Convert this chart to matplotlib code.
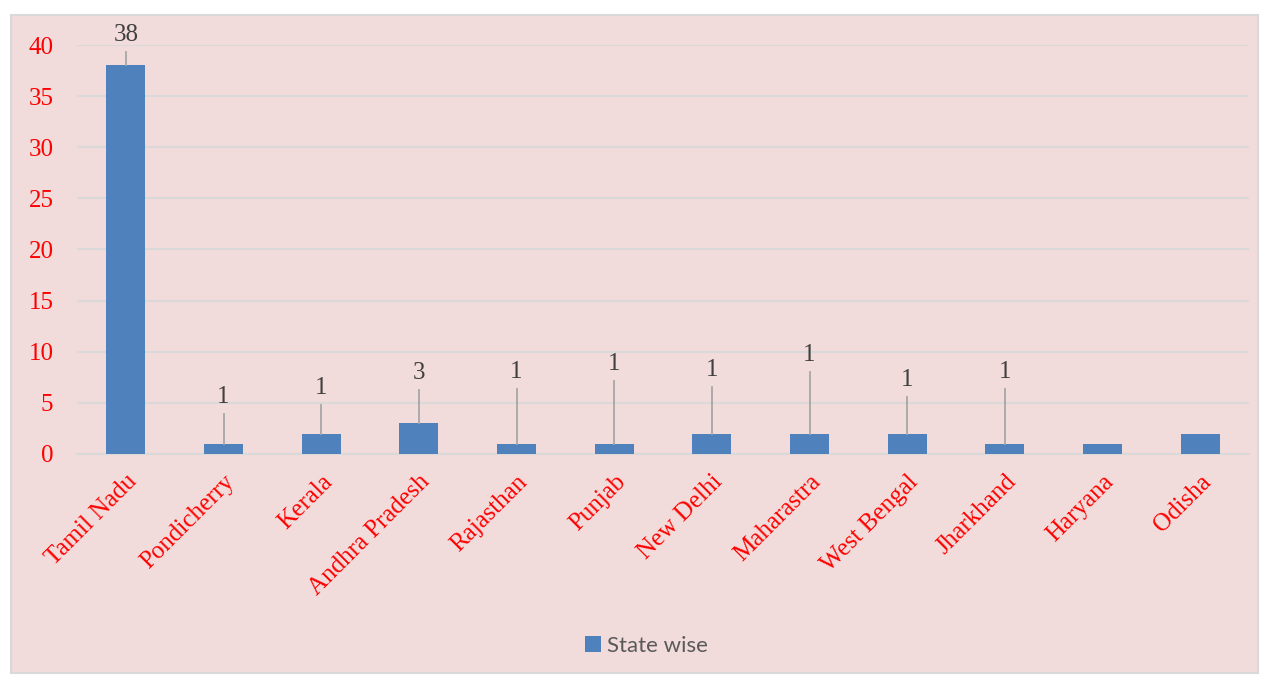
import matplotlib.pyplot as plt
from matplotlib.patches import Rectangle

# Datos
estados = ["Tamil Nadu", "Pondicherry", "Kerala", "Andhra Pradesh", "Rajasthan",
           "Punjab", "New Delhi", "Maharastra", "West Bengal", "Jharkhand",
           "Haryana", "Odisha"]
valores = [38, 1, 2, 3, 1, 1, 2, 2, 2, 1, 1, 2]
# Etiquetas de datos tal como aparecen (con lineas guia)
etiquetas = ["38", "1", "1", "3", "1", "1", "1", "1", "1", "1", "", ""]
alturas_etiqueta = [41.0, 5.6, 6.45, 7.9, 8.0, 8.8, 8.2, 9.7, 7.2, 8.0, None, None]
yticks = [0, 5, 10, 15, 20, 25, 30, 35, 40]

rojo = "#FF0000"
azul = "#4F81BD"
gris = "#D9D9D9"
serif = ["Liberation Serif", "DejaVu Serif"]

fig = plt.figure(figsize=(12.68, 6.75), dpi=100)
fig.patch.set_facecolor("white")

# Fondo del area del grafico
fig.patches.append(Rectangle((11 / 1268, 2 / 675), 1247 / 1268, 658 / 675,
                             transform=fig.transFigure, facecolor="#F2DCDB",
                             edgecolor=gris, linewidth=1.5, zorder=-5))

ax = fig.add_axes([77 / 1268, (675 - 454) / 675, 1172 / 1268, 409 / 675])
ax.set_facecolor("none")
ax.set_zorder(2)

x = list(range(len(estados)))
ax.bar(x, valores, width=0.4, color=azul, zorder=3, label="State wise")

ax.set_xlim(-0.5, len(estados) - 0.5)
ax.set_ylim(0, 40)
ax.set_yticks(yticks)
ax.yaxis.grid(True, color=gris, linewidth=1.5, zorder=0)
ax.set_axisbelow(True)
for s in ["top", "right", "left"]:
    ax.spines[s].set_visible(False)
ax.spines["bottom"].set_color(gris)
ax.spines["bottom"].set_linewidth(1.5)
ax.tick_params(length=0)
ax.tick_params(axis="y", pad=17)

for t in ax.get_yticklabels():
    t.set_color(rojo)
    t.set_fontsize(18)
    t.set_family(serif)

ax.set_xticks(x)
ax.set_xticklabels(estados, rotation=45, ha="right", va="top",
                   rotation_mode="anchor", color=rojo, fontsize=18, family=serif)
ax.tick_params(axis="x", pad=12)

# Etiquetas de datos con linea guia
for i, (v, txt, h) in enumerate(zip(valores, etiquetas, alturas_etiqueta)):
    if h is None:
        continue
    ax.plot([i, i], [v, h - 1.65], color="#A6A6A6", linewidth=1.3, zorder=4,
            clip_on=False)
    ax.text(i, h, txt, ha="center", va="center", fontsize=18, color="#404040",
            family=serif, zorder=5, clip_on=False)

fig.legend(loc="center", bbox_to_anchor=(0.51, 0.043), frameon=False,
           handlelength=0.7, handleheight=0.7, handletextpad=0.3,
           prop={"family": ["Lato", "DejaVu Sans"], "size": 16},
           labelcolor="#595959")

fig.savefig("out.png", dpi=100)
